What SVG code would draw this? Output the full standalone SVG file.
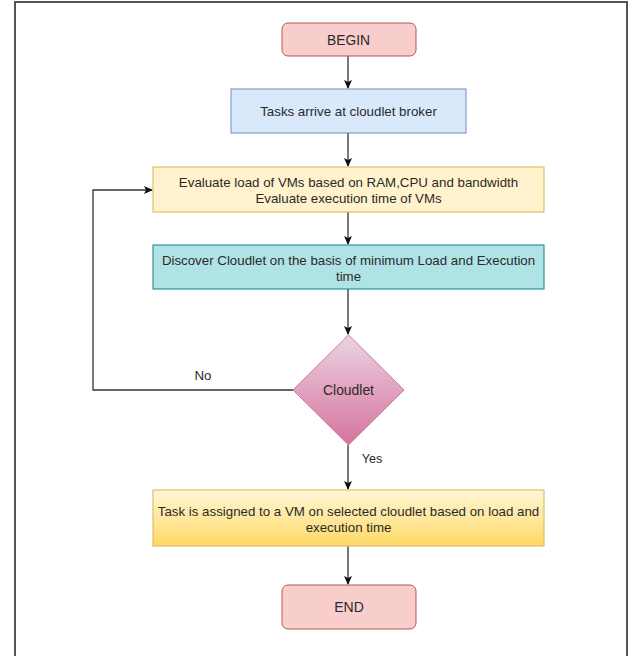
<svg xmlns="http://www.w3.org/2000/svg" width="629" height="656" viewBox="0 0 629 656">
<defs>
<style>
.t{font-family:"Liberation Sans",Arial,sans-serif;font-size:13.3px;fill:#2a2a2a;text-anchor:middle}
.c{fill:none;stroke:#333;stroke-width:1.3}
</style>
<marker id="a" markerWidth="10" markerHeight="10" refX="8" refY="5" orient="auto" markerUnits="userSpaceOnUse">
<path d="M0,1 L9,5 L0,9 L2,5 Z" fill="#111"/>
</marker>
<linearGradient id="gp" x1="0" y1="0" x2="0" y2="1">
<stop offset="0" stop-color="#ecd3e2"/>
<stop offset="1" stop-color="#d5739d"/>
</linearGradient>
<linearGradient id="gy" x1="0" y1="0" x2="0" y2="1">
<stop offset="0" stop-color="#fff6d6"/>
<stop offset="1" stop-color="#ffd966"/>
</linearGradient>
</defs>
<rect x="0" y="0" width="629" height="656" fill="#fff"/>
<path d="M15,660 V2 H627 V660" fill="none" stroke="#555" stroke-width="2"/>
<g id="connectors">
<path class="c" d="M348,56 V88" marker-end="url(#a)"/>
<path class="c" d="M348,133 V166" marker-end="url(#a)"/>
<path class="c" d="M348,212 V244" marker-end="url(#a)"/>
<path class="c" d="M348,289 V334" marker-end="url(#a)"/>
<path class="c" d="M293,390 H93 V190 H152" marker-end="url(#a)"/>
<path class="c" d="M348,445 V489" marker-end="url(#a)"/>
<path class="c" d="M348,546 V584" marker-end="url(#a)"/>
<text class="t" x="203" y="380">No</text>
<text class="t" x="372" y="463" style="font-size:12.5px">Yes</text>
</g>
<g id="begin">
<rect x="282" y="23" width="134" height="33" rx="6" fill="#f8cecc" stroke="#b85450"/>
<text class="t" x="348.5" y="44.5" style="font-size:13.8px">BEGIN</text>
</g>
<g id="tasks">
<rect x="231" y="89" width="235" height="44" fill="#dae8fc" stroke="#6c8ebf"/>
<text class="t" x="348.5" y="115.5">Tasks arrive at cloudlet broker</text>
</g>
<g id="evaluate">
<rect x="153" y="167" width="391" height="45" fill="#fff2cc" stroke="#d6b656"/>
<text class="t" x="348.5" y="186.5">Evaluate load of VMs based on RAM,CPU and bandwidth</text>
<text class="t" x="348.5" y="202.5">Evaluate execution time of VMs</text>
</g>
<g id="discover">
<rect x="153" y="245" width="391" height="44" fill="#b0e3e6" stroke="#0e8088"/>
<text class="t" x="348.5" y="264.5">Discover Cloudlet on the basis of minimum Load and Execution</text>
<text class="t" x="348.5" y="280.5">time</text>
</g>
<g id="cloudlet">
<path d="M348.5,335 L404,390 L348.5,445 L293,390 Z" fill="url(#gp)" stroke="#c57aa0"/>
<text class="t" x="348.5" y="394.5" style="font-size:13.9px">Cloudlet</text>
</g>
<g id="assign">
<rect x="153" y="490" width="391" height="56" fill="url(#gy)" stroke="#d6b656"/>
<text class="t" x="348.5" y="515.5">Task is assigned to a VM on selected cloudlet based on load and</text>
<text class="t" x="348.5" y="531.5">execution time</text>
</g>
<g id="end">
<rect x="282" y="585" width="134" height="44" rx="6" fill="#f8cecc" stroke="#b85450"/>
<text class="t" x="349" y="611.5" style="font-size:14px">END</text>
</g>
</svg>
